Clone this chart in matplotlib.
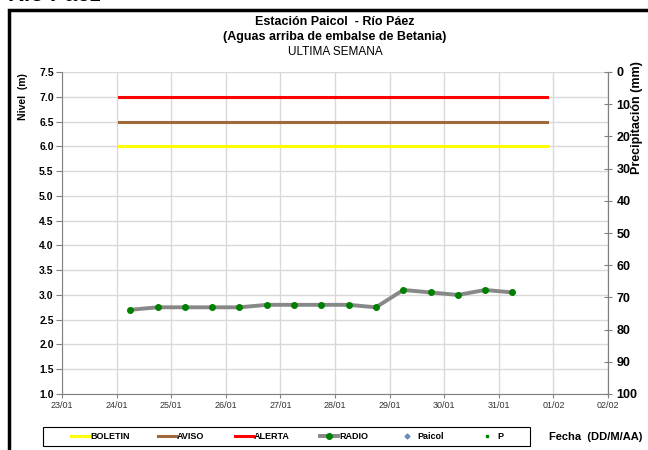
import matplotlib
matplotlib.use("Agg")
import matplotlib.pyplot as plt
import matplotlib.dates as mdates
from matplotlib.lines import Line2D
from matplotlib.patches import Rectangle
from datetime import datetime, timedelta

plt.rcParams['font.family'] = ['Liberation Sans', 'DejaVu Sans']

# datos de nivel (RADIO), cada 12 horas
inicio = datetime(2013, 1, 24, 6, 0)
fechas = [inicio + timedelta(hours=12 * i) for i in range(15)]
nivel = [2.7, 2.75, 2.75, 2.75, 2.75, 2.8, 2.8, 2.8, 2.8, 2.75,
         3.1, 3.05, 3.0, 3.1, 3.05]

# umbrales
umbral_fechas = [datetime(2013, 1, 24, 1, 0), datetime(2013, 1, 31, 21, 0)]
boletin = [6.0, 6.0]
aviso = [6.5, 6.5]
alerta = [7.0, 7.0]

fig = plt.figure(figsize=(6.48, 4.5), dpi=100)
ax = fig.add_axes([62 / 648, 1 - 394 / 450, 546 / 648, 322 / 450])

ax.plot(umbral_fechas, boletin, color='#FFFF00', lw=2.2, label='BOLETIN')
ax.plot(umbral_fechas, aviso, color='#A0693A', lw=2.2, label='AVISO')
ax.plot(umbral_fechas, alerta, color='#FF0000', lw=2.2, label='ALERTA')
ax.plot(fechas, nivel, color='#888888', lw=2.8, marker='o', ms=4,
        mfc='#008000', mec='#008000', label='RADIO')

ax.set_xlim(datetime(2013, 1, 23), datetime(2013, 2, 2))
ax.set_ylim(1.0, 7.5)
ax.set_yticks([1.0 + 0.5 * i for i in range(14)])
ax.yaxis.set_major_formatter(plt.FormatStrFormatter('%.1f'))
ax.xaxis.set_major_locator(mdates.DayLocator())
ax.xaxis.set_major_formatter(mdates.DateFormatter('%d/%m'))
ax.grid(True, color='#d9d9d9', lw=1)
ax.set_axisbelow(True)

ax.spines['top'].set_visible(False)
for s in ['left', 'bottom', 'right']:
    ax.spines[s].set_color('#808080')

ax.tick_params(axis='x', labelsize=6.5, colors='#333333', length=3, color='#808080', pad=2)
ax.tick_params(axis='y', labelsize=7.5, length=4, color='#808080', pad=2)
for t in ax.get_yticklabels():
    t.set_fontweight('bold')

ax.set_ylabel('Nivel  (m)', fontsize=7.5, fontweight='bold')
ax.yaxis.set_label_coords(-0.062, 0.925)

# eje de precipitacion
ax2 = ax.twinx()
ax2.set_ylim(100, 0)
ax2.set_yticks(range(0, 101, 10))
ax2.tick_params(axis='y', labelsize=9, length=6, direction='inout', color='#808080', pad=3)
for t in ax2.get_yticklabels():
    t.set_fontweight('bold')
for s in ['top', 'left', 'bottom']:
    ax2.spines[s].set_visible(False)
ax2.spines['right'].set_color('#808080')
ax2.set_ylabel('Precipitación (mm)', fontsize=9, fontweight='bold')
ax2.yaxis.set_label_coords(1.043, 0.86)

# titulos
fig.text(335 / 648, 1 - 22 / 450, 'Estación Paicol  - Río Páez', ha='center', va='center',
         fontsize=9, fontweight='bold')
fig.text(335 / 648, 1 - 37 / 450, '(Aguas arriba de embalse de Betania)', ha='center',
         va='center', fontsize=9, fontweight='bold')
fig.text(335 / 648, 1 - 52 / 450, 'ULTIMA SEMANA', ha='center', va='center', fontsize=8.5)
fig.text(8 / 648, 1 - 1 / 450, 'Río Páez', ha='left', va='baseline', fontsize=16,
         fontweight='bold')

# marco exterior
fig.patches.append(Rectangle((9 / 648, -0.1), 1.2, 1 - 10 / 450 + 0.1,
                             transform=fig.transFigure, fill=False, lw=2.5,
                             ec='black', clip_on=False))

# leyenda
handles = [
    Line2D([], [], color='#FFFF00', lw=2.2),
    Line2D([], [], color='#A0693A', lw=2.2),
    Line2D([], [], color='#FF0000', lw=2.2),
    Line2D([], [], color='#888888', lw=2.8, marker='o', ms=4, mfc='#008000', mec='#008000'),
    Line2D([], [], ls='none', marker='D', ms=2.5, color='#6A8CB8'),
    Line2D([], [], ls='none', marker='s', ms=1.8, color='#008000'),
]
labels = ['BOLETIN', 'AVISO', 'ALERTA', 'RADIO', 'Paicol', 'P']
leg_x = [71, 158, 235, 320, 398, 478]
leg_y = 1 - 436.5 / 450
for h, lab, x in zip(handles, labels, leg_x):
    leg = fig.legend([h], [lab], loc='center left', bbox_to_anchor=(x / 648, leg_y),
                     fontsize=6.5, frameon=False, handlelength=2.0, handletextpad=0.1,
                     borderpad=0, borderaxespad=0)
    for t in leg.get_texts():
        t.set_fontweight('bold')

fig.patches.append(Rectangle((43 / 648, 1 - 446 / 450), 487 / 648, 19 / 450,
                             transform=fig.transFigure, fill=False, lw=0.8, ec='black'))

fig.text(596 / 648, 1 - 437 / 450, 'Fecha  (DD/M/AA)', ha='center', va='center',
         fontsize=8, fontweight='bold')

fig.savefig('out.png', dpi=100)
